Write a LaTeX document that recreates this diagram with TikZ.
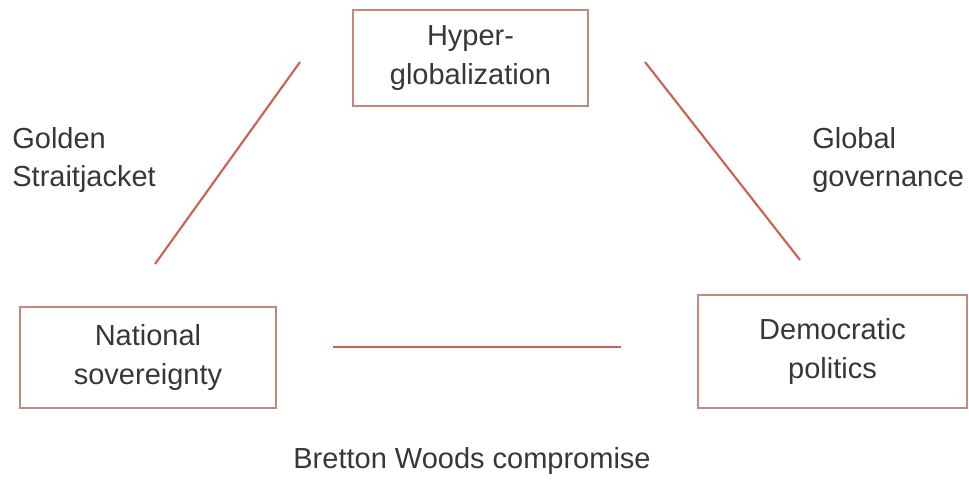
\documentclass[tikz,border=0pt]{standalone}
\usepackage{fontspec}
\setmainfont{Liberation Sans}
\usetikzlibrary{positioning}
\definecolor{boxred}{RGB}{196,136,128}
\definecolor{linered}{RGB}{204,96,84}
\definecolor{txtgray}{RGB}{55,55,55}
\tikzset{>=latex,
  corner/.style={draw=boxred,line width=1.1pt,text=txtgray,align=center,
    inner sep=0pt,font=\fontsize{16.5}{22}\selectfont},
  side/.style={text=txtgray,align=left,inner sep=0pt,
    font=\fontsize{16.5}{22}\selectfont},
  link/.style={linered,line width=1.2pt}}

\begin{document}
\begin{tikzpicture}
    \useasboundingbox (0,0) rectangle (19.38,9.58);
    \node[corner,minimum width=4.7cm,minimum height=1.92cm] (hyper) at (9.41,8.42) {Hyper-\\globalization};
    \node[corner,minimum width=5.12cm,minimum height=2.02cm] (nation) at (2.96,2.43) {National\\sovereignty};
    \node[corner,minimum width=5.38cm,minimum height=2.26cm] (demo) at (16.65,2.55) {Democratic\\politics};
    \node[side,anchor=west] (golden) at (0.24,6.38) {Golden\\Straitjacket};
    \node[side,anchor=west] (global) at (16.24,6.38) {Global\\governance};
    \node[side] (bretton) at (9.44,0.36) {Bretton Woods compromise};
    % the three sides of the trilemma
    \coordinate (gsTop) at (6.0,8.34);
    \coordinate (gsBot) at (3.1,4.30);
    \coordinate (ggTop) at (12.9,8.34);
    \coordinate (ggBot) at (16.0,4.38);
    \coordinate (bwL) at (6.66,2.64);
    \coordinate (bwR) at (12.42,2.64);
    \draw[link] (gsTop) -- (gsBot);
    \draw[link] (ggTop) -- (ggBot);
    \draw[link] (bwL) -- (bwR);
\end{tikzpicture}
\end{document}
